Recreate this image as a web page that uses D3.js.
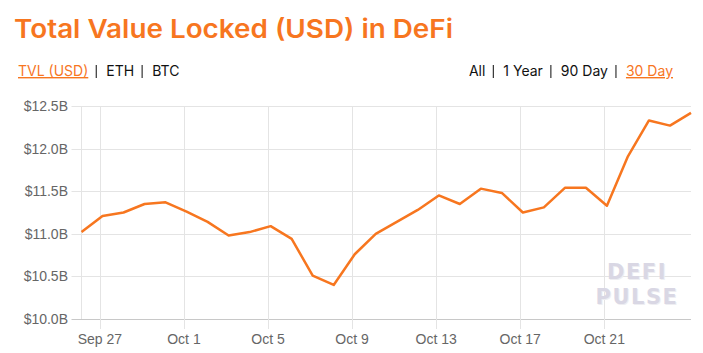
<!DOCTYPE html>
<html>
<head>
<meta charset="utf-8">
<script src="https://cdn.jsdelivr.net/npm/d3@7"></script>
<style>
  body { margin: 0; background: #fff; font-family: Inter, "Noto Sans", sans-serif; }
  svg { display: block; }
</style>
</head>
<body>
<div id="chart"></div>
<script>
// ===== data =====
const dates = ['2020-09-26','2020-09-27','2020-09-28','2020-09-29','2020-09-30','2020-10-01',
  '2020-10-02','2020-10-03','2020-10-04','2020-10-05','2020-10-06','2020-10-07','2020-10-08',
  '2020-10-09','2020-10-10','2020-10-11','2020-10-12','2020-10-13','2020-10-14','2020-10-15',
  '2020-10-16','2020-10-17','2020-10-18','2020-10-19','2020-10-20','2020-10-21','2020-10-22',
  '2020-10-23','2020-10-24','2020-10-25'];
const tvl = [11.02, 11.21, 11.25, 11.35, 11.37, 11.26, 11.14, 10.98, 11.02, 11.09, 10.94, 10.51, 10.40,
  10.76, 11.00, 11.14, 11.28, 11.45, 11.35, 11.53, 11.48, 11.25, 11.31, 11.54, 11.54, 11.33, 11.91,
  12.33, 12.27, 12.42];
const yTicks = [10.0, 10.5, 11.0, 11.5, 12.0, 12.5];
const xTickDates = ['2020-09-27','2020-10-01','2020-10-05','2020-10-09','2020-10-13','2020-10-17','2020-10-21'];
const metricTabs = ['TVL (USD)', 'ETH', 'BTC'];
const rangeTabs = ['All', '1 Year', '90 Day', '30 Day'];

const W = 703, H = 353;
const orange = '#f7761f';
const margin = { left: 81.5, right: 12, top: 106, bottom: 34 };

const svg = d3.select('#chart').append('svg').attr('width', W).attr('height', H);

// title
svg.append('text')
  .attr('x', 14).attr('y', 38)
  .attr('fill', orange)
  .attr('font-size', '26px').attr('font-weight', 600)
  .attr('textLength', 439).attr('lengthAdjust', 'spacingAndGlyphs')
  .text('Total Value Locked (USD) in DeFi');

// tabs: items laid out one by one, with a bar between them
function drawTabs(items, activeIdx, x0, alignRight) {
  const g = svg.append('g');
  const nodes = items.map((s, i) => g.append('text')
    .attr('y', 76).attr('font-size', '14px')
    .attr('fill', i === activeIdx ? orange : '#111')
    .attr('text-decoration', i === activeIdx ? 'underline' : null)
    .text(s));
  const widths = nodes.map(n => n.node().getComputedTextLength());
  const gapL = 7.5, gapR = 9.5;
  const total = d3.sum(widths) + (items.length - 1) * (gapL + gapR + 1);
  let cx = alignRight ? x0 - total : x0;
  nodes.forEach((n, i) => {
    n.attr('x', cx);
    cx += widths[i];
    if (i < items.length - 1) {
      g.append('line')
        .attr('x1', cx + gapL + 0.5).attr('x2', cx + gapL + 0.5)
        .attr('y1', 65).attr('y2', 78)
        .attr('stroke', '#333').attr('stroke-width', 1.2);
      cx += gapL + gapR + 1;
    }
  });
}
drawTabs(metricTabs, 0, 18, false);
drawTabs(rangeTabs, 3, 673, true);

// ===== scales =====
const parse = d3.utcParse('%Y-%m-%d');
const pts = dates.map((d, i) => ({ t: d3.utcHour.offset(parse(d), 3), v: tvl[i] }));

const x = d3.scaleUtc()
  .domain(d3.extent(pts, d => d.t))
  .range([margin.left, W - margin.right]);
const y = d3.scaleLinear()
  .domain([10, 12.5])
  .range([H - margin.bottom, margin.top]);

// grid
const grid = svg.append('g');
grid.selectAll('.hg').data(yTicks).enter().append('line')
  .attr('x1', margin.left - 10).attr('x2', W - margin.right)
  .attr('y1', d => Math.round(y(d)) + 0.5).attr('y2', d => Math.round(y(d)) + 0.5)
  .attr('stroke', d => d === 10 ? '#c8c8c8' : '#e4e4e4');
const xTicks = xTickDates.map(parse);
grid.selectAll('.vg').data(xTicks).enter().append('line')
  .attr('x1', d => Math.round(x(d)) + 0.5).attr('x2', d => Math.round(x(d)) + 0.5)
  .attr('y1', margin.top).attr('y2', H - margin.bottom + 10)
  .attr('stroke', '#e4e4e4');
grid.append('line')
  .attr('x1', margin.left).attr('x2', margin.left)
  .attr('y1', margin.top).attr('y2', H - margin.bottom)
  .attr('stroke', '#e4e4e4');

// y labels
svg.selectAll('.yl').data(yTicks).enter().append('text')
  .attr('x', 68).attr('y', d => y(d) + 5)
  .attr('text-anchor', 'end')
  .attr('font-family', 'Arial, "Liberation Sans", sans-serif')
  .attr('font-size', '14px').attr('fill', '#666')
  .text(d => '$' + d.toFixed(1) + 'B');

// x labels
const fmt = d3.utcFormat('%b %-d');
svg.selectAll('.xl').data(xTicks).enter().append('text')
  .attr('x', d => x(d)).attr('y', H - 9)
  .attr('text-anchor', 'middle')
  .attr('font-family', 'Arial, "Liberation Sans", sans-serif')
  .attr('font-size', '14px').attr('fill', '#666')
  .text(d => fmt(d));

// watermark
const wm = svg.append('g')
  .attr('font-family', '"DejaVu Sans", sans-serif')
  .attr('font-weight', 'bold')
  .attr('font-size', '21px')
  .attr('text-anchor', 'middle')
  .attr('letter-spacing', '1.5px');
[['DEFI', 279], ['PULSE', 304]].forEach(([s, yy]) => {
  wm.append('text').attr('x', 638).attr('y', yy + 1).attr('fill', '#eeeef2').text(s);
  wm.append('text').attr('x', 637).attr('y', yy).attr('fill', '#d9d7e4').text(s);
});

// line
const line = d3.line().x(d => x(d.t)).y(d => y(d.v));
svg.append('path')
  .datum(pts)
  .attr('d', line)
  .attr('fill', 'none')
  .attr('stroke', orange)
  .attr('stroke-width', 2.5)
  .attr('stroke-linejoin', 'round');
</script>
</body>
</html>
